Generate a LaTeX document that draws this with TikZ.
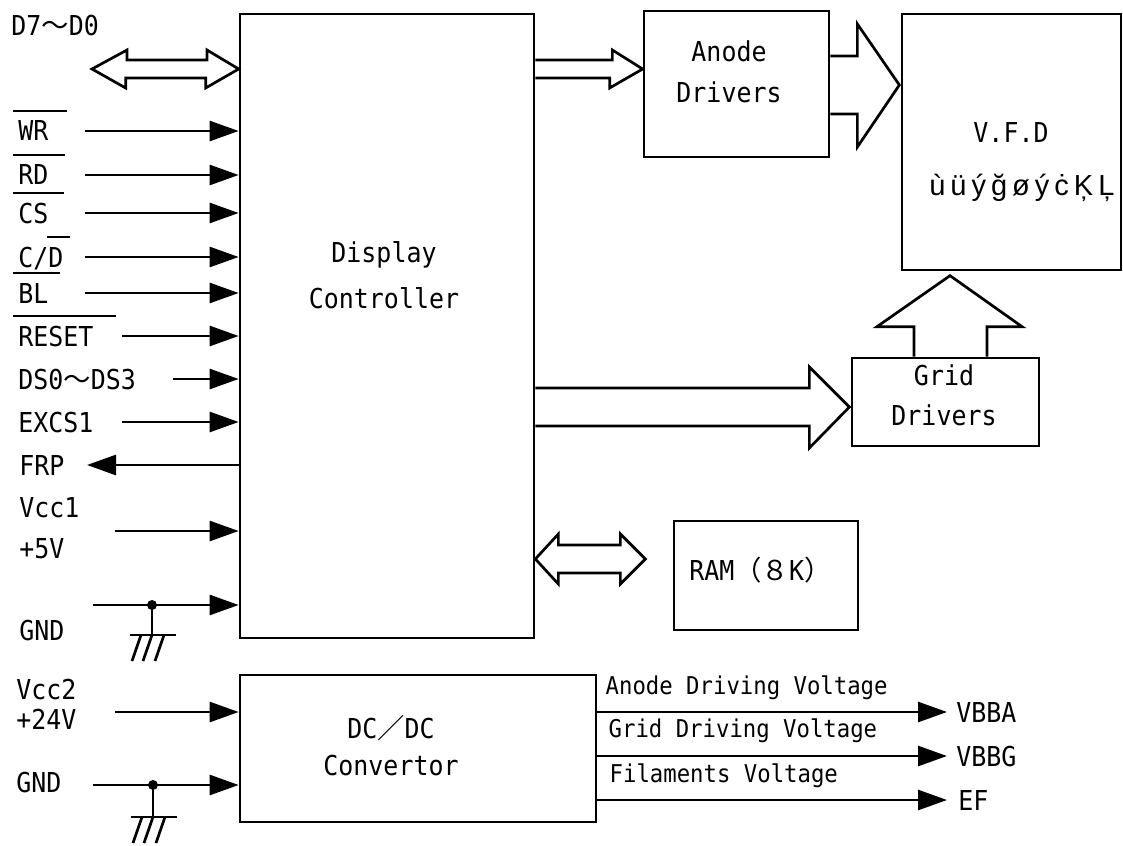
\documentclass[tikz,border=0pt]{standalone}
\usepackage{fontspec}
\setmainfont{DejaVu Sans Mono}[FakeStretch=0.91]
\newfontfamily\cjkfont{Noto Sans CJK JP}
\newfontfamily\glyphfont{Liberation Sans}
\usetikzlibrary{arrows.meta,calc,positioning}
\newcommand\wide[1]{{\cjkfont #1}}
\newcommand\nbar[3][5pt]{\setbox0\hbox{#2}\rlap{\kern-#1\rule[29pt]{\dimexpr\wd0+#1+#3\relax}{2.4pt}}\box0}
\newcommand\gl{\kern5pt}
\tikzset{
  block/.style={draw,line width=2.7pt,inner sep=0pt},
  boxtext/.style={align=center,inner sep=0pt,font=\fontsize{27.4}{41}\selectfont},
  lbl/.style={inner sep=0pt,anchor=west,text height=20pt,text depth=0pt,
    font=\fontsize{27.4}{32}\selectfont},
  voltlbl/.style={inner sep=0pt,anchor=base west,font=\fontsize{24.5}{28}\selectfont},
  sigline/.style={-{Triangle[length=29pt,width=20pt]},line width=2.7pt},
  busarrow/.style={draw,line width=2.7pt,line join=miter},
  earth/.pic={\draw[line width=2.7pt] (-22,0) -- (24,0);
    \foreach \dx in {-11,0,12} \draw[line width=2.7pt] (\dx,0) -- ++(-9,26);}
}

\begin{document}
\begin{tikzpicture}[x=1pt,y=-1pt,line width=2.7pt]
  \useasboundingbox (0,0) rectangle (1123,845);
  \node[block,minimum width=294pt,minimum height=624pt] (ctl) at (387,326) {};
  \node[block,minimum width=185pt,minimum height=146pt] (anode) at (736.5,84) {};
  \node[block,minimum width=219pt,minimum height=256pt] (vfd) at (1011.5,142) {};
  \node[block,minimum width=187pt,minimum height=88pt] (grid) at (945.5,402) {};
  \node[block,minimum width=184pt,minimum height=109pt] (ram) at (766,575.5) {};
  \node[block,minimum width=356pt,minimum height=147pt] (dcdc) at (418,748.5) {};

  \node[boxtext,font=\fontsize{27.4}{46}\selectfont] (ctltext) at (384,275) {Display\\Controller};
  \node[boxtext] (anodetext) at (729,72) {Anode\\Drivers};
  \node[boxtext,font=\fontsize{27.4}{40}\selectfont] (gridtext) at (944,395) {Grid\\Drivers};
  \node[boxtext,font=\fontsize{27.4}{37}\selectfont] (dcdctext) at (391,746) {DC\wide{／}DC\\Convertor};
  \node[lbl] (ramtext) at (688,570) {RAM\wide{（８}K\wide{）}};
  \node[boxtext] (vfdtitle) at (1011,133) {V.F.D};
  \node[inner sep=0pt,anchor=base west,font=\glyphfont\fontsize{29}{34}\selectfont] (vfdcode)
    at (928,195) {ù\gl ü\gl ý\gl ğ\gl ø\gl ý\gl ċ\gl Ķ\gl Ļ};

  \node[lbl] (data) at (10,26) {D7\wide{～}D0};
  \node[lbl] (wr) at (17,131) {\nbar{WR}{19pt}};
  \node[lbl] (rd) at (17,175) {\nbar{RD}{17pt}};
  \node[lbl] (cs) at (17,213) {\nbar{CS}{16pt}};
  \node[lbl] (cd) at (17,257) {C/\nbar[1pt]{D}{7pt}};
  \node[lbl] (bl) at (17,293) {\nbar{BL}{12pt}};
  \node[lbl] (reset) at (17,336) {\nbar{RESET}{23pt}};
  \node[lbl] (ds) at (17,379) {DS0\wide{～}DS3};
  \node[lbl] (excs) at (17,422) {EXCS1};
  \node[lbl] (frp) at (18,465) {FRP};
  \node[lbl] (vcca) at (18,507) {Vcc1};
  \node[lbl] (vccb) at (18,548) {+5V};
  \node[lbl] (gnda) at (18,630) {GND};
  \node[lbl] (vccc) at (15,689) {Vcc2};
  \node[lbl] (vccd) at (15,719) {+24V};
  \node[lbl] (gndb) at (15,782) {GND};
  \node[lbl] (vbba) at (955,712) {VBBA};
  \node[lbl] (vbbg) at (955,756) {VBBG};
  \node[lbl] (ef) at (957,800) {EF};

  \coordinate (dbus) at (92,69);
  \draw[busarrow] (dbus) -- ++(35,-19) -- ++(0,10) -- ++(80,0) -- ++(0,-10) -- (ctl.west |- dbus)
    -- ++(-33,19) -- ++(0,-10) -- ++(-80,0) -- ++(0,10) -- cycle;
  \draw[sigline] (wr -| 85,0) -- (wr -| ctl.west);
  \draw[sigline] (rd -| 85,0) -- (rd -| ctl.west);
  \draw[sigline] (cs -| 85,0) -- (cs -| ctl.west);
  \draw[sigline] (cd -| 85,0) -- (cd -| ctl.west);
  \draw[sigline] (bl -| 85,0) -- (bl -| ctl.west);
  \draw[sigline] (reset -| 122,0) -- (reset -| ctl.west);
  \draw[sigline] (ds -| 173,0) -- (ds -| ctl.west);
  \draw[sigline] (excs -| 122,0) -- (excs -| ctl.west);
  \draw[sigline] (frp -| ctl.west) -- (frp -| 87,0);
  \coordinate (vin1) at (115,531);
  \draw[sigline] (vin1) -- (vin1 -| ctl.west);
  \coordinate (gin1) at (93,605);
  \coordinate (gdot1) at (152,605);
  \draw[sigline] (gin1) -- (gin1 -| ctl.west);
  \fill (gdot1) circle (5);
  \draw (gdot1) -- ++(0,30) pic{earth};

  \coordinate (vin2) at (115,712);
  \draw[sigline] (vin2) -- (vin2 -| dcdc.west);
  \coordinate (gin2) at (93,785);
  \coordinate (gdot2) at (153,785);
  \draw[sigline] (gin2) -- (gin2 -| dcdc.west);
  \fill (gdot2) circle (5);
  \draw (gdot2) -- ++(0,32) pic{earth};

  \draw[busarrow] (ctl.east |- 0,60) -- ++(77,0) -- ++(0,-10) -- (anode.west |- 0,69)
    -- ++(-33,19) -- ++(0,-10) -- (ctl.east |- 0,78);
  \draw[busarrow] (anode.east |- 0,56) -- ++(27,0) -- ++(0,-32) -- ++(42,61) -- ++(-42,62)
    -- ++(0,-33) -- (anode.east |- 0,114);
  \draw[busarrow] (ctl.east |- 0,388) -- ++(274,0) -- ++(0,-21) -- ++(40,40) -- ++(-40,41)
    -- ++(0,-22) -- (ctl.east |- 0,426);
  \draw[busarrow] (grid.north -| 914,0) -- ++(0,-30) -- ++(-37,0) -- ++(73,-51) -- ++(72,51)
    -- ++(-35,0) -- (grid.north -| 987,0);
  \draw[busarrow] (ctl.east |- 0,559) -- ++(23,-25) -- ++(0,11) -- ++(62,0) -- ++(0,-11)
    -- ++(25,25) -- ++(-25,25) -- ++(0,-11) -- ++(-62,0) -- ++(0,11) -- cycle;

  \draw[sigline] (dcdc.east |- vbba) -- ([xshift=-8pt]vbba.west)
    node[voltlbl,pos=0,xshift=7pt,yshift=18pt] {Anode Driving Voltage};
  \draw[sigline] (dcdc.east |- vbbg) -- ([xshift=-8pt]vbbg.west)
    node[voltlbl,pos=0,xshift=10pt,yshift=19pt] {Grid Driving Voltage};
  \draw[sigline] (dcdc.east |- ef) -- ([xshift=-10pt]ef.west)
    node[voltlbl,pos=0,xshift=11pt,yshift=18pt] {Filaments Voltage};
\end{tikzpicture}
\end{document}
